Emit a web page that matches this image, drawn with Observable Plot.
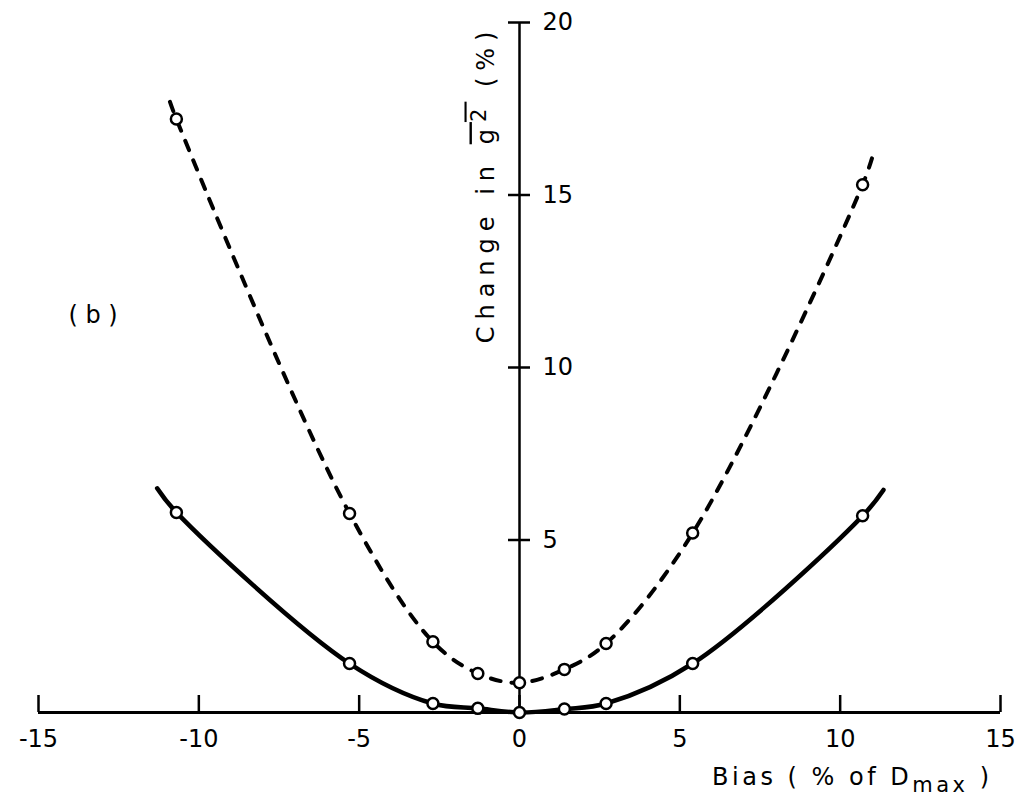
<!DOCTYPE html>
<html>
<head>
<meta charset="utf-8">
<script src="https://cdn.jsdelivr.net/npm/d3@7"></script>
<script src="https://cdn.jsdelivr.net/npm/@observablehq/plot@0.6"></script>
<style>
  html, body { margin: 0; padding: 0; background: #fff; }
  svg { display: block; }
</style>
</head>
<body>
<div id="chart"></div>
<script>
// ---- data ----
const markerBias   = [-10.7, -5.3, -2.7, -1.3, 0, 1.4, 2.7, 5.4, 10.7];
const solidMarkers = [5.8, 1.42, 0.26, 0.12, 0, 0.1, 0.26, 1.42, 5.7];
const dashedMarkers = [17.2, 5.77, 2.05, 1.13, 0.86, 1.25, 2.0, 5.2, 15.3];

// drawn curves (they run a little past the outer markers)
const solidCurveBias   = [-11.3, -10.7, -5.3, -2.7, -1.3, 0, 1.4, 2.7, 5.4, 10.7, 11.35];
const solidCurveValue  = [6.5, 5.8, 1.42, 0.26, 0.12, 0, 0.1, 0.26, 1.42, 5.7, 6.45];
const dashedCurveBias  = [-10.9, -10.7, -5.3, -2.7, -1.3, 0, 1.4, 2.7, 5.4, 10.7, 11.05];
const dashedCurveValue = [17.7, 17.2, 5.77, 2.05, 1.13, 0.86, 1.25, 2.0, 5.2, 15.3, 16.25];

const xTicks = [-15, -10, -5, 0, 5, 10, 15];
const yTicks = [5, 10, 15, 20];
const xDomain = [-15, 15];
const yDomain = [0, 20];
const yAxisAt = 0;

const panelLabel = "( b )";
const xLabel = "Bias ( % of Dmax )";
const yLabel = "Change in g2 (%)";

// ---- tables built from the arrays ----
const solidCurve = solidCurveBias.map((x, i) => ({x, y: solidCurveValue[i]}));
const dashedCurve = dashedCurveBias.map((x, i) => ({x, y: dashedCurveValue[i]}));
const solidPts = markerBias.map((x, i) => ({x, y: solidMarkers[i]}));
const dashedPts = markerBias.map((x, i) => ({x, y: dashedMarkers[i]}));

const FONT = "DejaVu Sans";

const plot = Plot.plot({
  width: 1016,
  height: 799,
  marginLeft: 38,
  marginRight: 16,
  marginTop: 22,
  marginBottom: 87,
  x: {domain: xDomain, axis: null},
  y: {domain: yDomain, axis: null},
  style: {fontFamily: FONT, background: "#fff", color: "black"},
  marks: [
    // axes lines
    Plot.ruleY([0], {stroke: "black", strokeWidth: 3}),
    Plot.ruleX([yAxisAt], {stroke: "black", strokeWidth: 2.5}),
    // x ticks (pointing up)
    Plot.ruleX(xTicks, {x: d => d, y1: 0, y2: 0, insetTop: -17, stroke: "black", strokeWidth: 2.5}),
    // y ticks (crossing the axis)
    Plot.ruleY(yTicks, {y: d => d, x1: yAxisAt, x2: yAxisAt, insetLeft: -11, insetRight: -11, stroke: "black", strokeWidth: 2.5}),
    // tick labels
    Plot.text(xTicks, {x: d => d, frameAnchor: "bottom", dy: 27, text: d => String(d),
      fontSize: 24, fill: "black", lineAnchor: "middle"}),
    Plot.text(yTicks, {x: () => yAxisAt, y: d => d, dx: 23, text: d => String(d),
      fontSize: 24, fill: "black", textAnchor: "start", lineAnchor: "middle"}),
    // curves
    Plot.line(dashedCurve, {x: "x", y: "y", curve: "catmull-rom", stroke: "black",
      strokeWidth: 4, strokeDasharray: "10,11", strokeLinecap: "round"}),
    Plot.line(solidCurve, {x: "x", y: "y", curve: "catmull-rom", stroke: "black",
      strokeWidth: 4.5, strokeLinecap: "round"}),
    // markers
    Plot.dot(dashedPts, {x: "x", y: "y", r: 5.5, fill: "white", stroke: "black", strokeWidth: 2.5}),
    Plot.dot(solidPts, {x: "x", y: "y", r: 5.5, fill: "white", stroke: "black", strokeWidth: 2.5}),
    // texts
    Plot.text([panelLabel], {frameAnchor: "top-left", dx: 30, dy: 300, text: d => d,
      fontSize: 24, fill: "black", textAnchor: "start", lineAnchor: "bottom"}),
    Plot.text([xLabel], {frameAnchor: "bottom-right", dx: -8, dy: 72, text: d => d,
      fontSize: 24, fill: "black", textAnchor: "end", lineAnchor: "bottom"}),
    Plot.text([yLabel], {x: () => yAxisAt, frameAnchor: "top", dx: -26, dy: 2, text: d => d,
      rotate: -90, fontSize: 24, fill: "black", textAnchor: "end", lineAnchor: "bottom"})
  ]
});

document.getElementById("chart").appendChild(plot);

// ---- rich text (subscript / overline / superscript) ----
const svg = d3.select(plot);
svg.selectAll("text").filter(function () { return this.textContent === xLabel; })
  .each(function () {
    const t = d3.select(this);
    t.text(null).style("letter-spacing", "3.5px");
    t.append("tspan").text("Bias ( % of D");
    t.append("tspan").text("max").attr("dy", 7).attr("font-size", 21);
    t.append("tspan").text(" )").attr("dy", -7);
  });

svg.selectAll("text").filter(function () { return this.textContent === yLabel; })
  .each(function () {
    const t = d3.select(this);
    t.text(null).style("letter-spacing", "7px");
    t.append("tspan").text("Change in ");
    const g = t.append("tspan").attr("text-decoration", "overline").style("text-decoration", "overline");
    g.append("tspan").text("g");
    g.append("tspan").text("2").attr("dy", -8).attr("font-size", 21);
    t.append("tspan").text(" (%)").attr("dy", 8);
  });
</script>
</body>
</html>
